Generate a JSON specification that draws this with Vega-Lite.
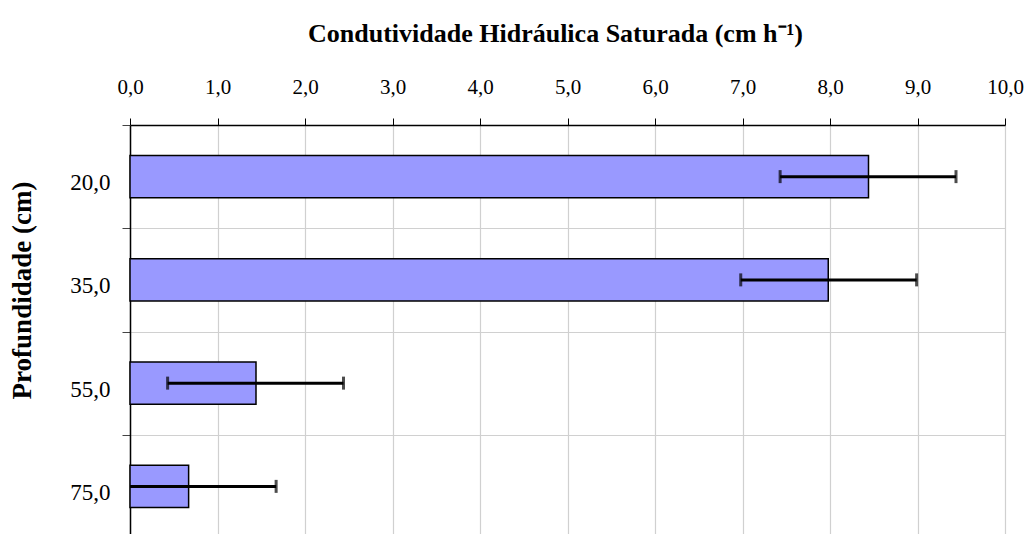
{
  "$schema": "https://vega.github.io/schema/vega-lite/v6.json",
  "autosize": "none",
  "width": 875,
  "height": 413,
  "padding": {"left": 130, "top": 125, "right": 24, "bottom": 0},
  "background": "white",
  "config": {
    "font": "Liberation Serif",
    "view": {"stroke": null}
  },
  "data": {
    "values": [
      {"prof": "20,0", "k": 8.44, "lo": 7.43, "hi": 9.44},
      {"prof": "35,0", "k": 7.98, "lo": 6.98, "hi": 8.99},
      {"prof": "55,0", "k": 1.44, "lo": 0.43, "hi": 2.44},
      {"prof": "75,0", "k": 0.67, "lo": -0.33, "hi": 1.67}
    ]
  },
  "encoding": {
    "y": {
      "field": "prof",
      "type": "nominal",
      "sort": null,
      "scale": {"paddingInner": 0, "paddingOuter": 0},
      "axis": {
        "title": "Profundidade (cm)",
        "titleFont": "Liberation Serif",
        "titleFontSize": 27,
        "titleFontWeight": "bold",
        "titleColor": "black",
        "titleAngle": 270,
        "titleAlign": "center",
        "titleBaseline": "middle",
        "titleX": -108,
        "titleY": 165,
        "labelFont": "Liberation Serif",
        "labelFontSize": 23,
        "labelColor": "black",
        "labelPadding": 12,
        "labelOffset": 6,
        "tickBand": "extent",
        "tickSize": 8,
        "tickColor": "#444",
        "domainColor": "black",
        "domainWidth": 1.5,
        "grid": true,
        "gridColor": "#d0d0d0",
        "gridWidth": 1.2
      }
    }
  },
  "layer": [
    {
      "mark": {"type": "bar", "fill": "#9999FF", "stroke": "black", "strokeWidth": 1.5, "height": {"band": 0.41}},
      "encoding": {
        "x": {
          "field": "k",
          "type": "quantitative",
          "scale": {"domain": [0, 10], "nice": false, "zero": true},
          "axis": {
            "orient": "top",
            "title": "Condutividade Hidráulica Saturada (cm h⁻¹)",
            "titleFont": "Liberation Serif",
            "titleFontSize": 26,
            "titleFontWeight": "bold",
            "titleColor": "black",
            "titleX": 425,
            "titleY": -84,
            "titleAlign": "center",
            "titleBaseline": "alphabetic",
            "values": [0, 1, 2, 3, 4, 5, 6, 7, 8, 9, 10],
            "labelExpr": "replace(format(datum.value, '.1f'), '.', ',')",
            "labelFont": "Liberation Serif",
            "labelFontSize": 21,
            "labelColor": "black",
            "labelPadding": 21,
            "labelFlush": false,
            "tickSize": 7,
            "tickColor": "black",
            "domainColor": "black",
            "domainWidth": 1.5,
            "grid": true,
            "gridColor": "#d0d0d0",
            "gridWidth": 1.2
          }
        }
      }
    },
    {
      "mark": {"type": "rule", "color": "black", "strokeWidth": 3, "clip": true},
      "encoding": {
        "x": {"field": "lo", "type": "quantitative"},
        "x2": {"field": "hi"}
      }
    },
    {
      "mark": {"type": "tick", "color": "black", "thickness": 3, "size": 13, "clip": true},
      "encoding": {"x": {"field": "lo", "type": "quantitative"}}
    },
    {
      "mark": {"type": "tick", "color": "black", "thickness": 3, "size": 13, "clip": true},
      "encoding": {"x": {"field": "hi", "type": "quantitative"}}
    }
  ]
}
